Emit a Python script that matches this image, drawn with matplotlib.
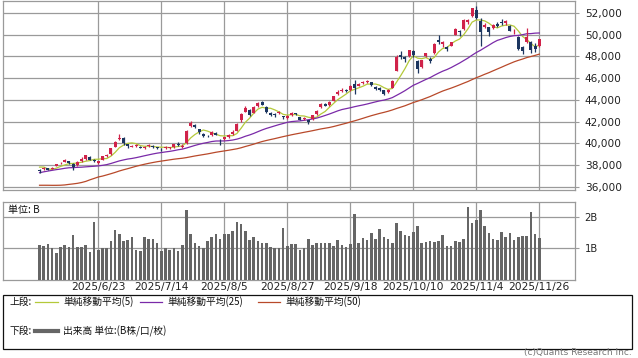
import numpy as np
import pandas as pd
import matplotlib
matplotlib.use("Agg")
import matplotlib.pyplot as plt
from matplotlib.patches import Rectangle
from matplotlib.lines import Line2D

plt.rcParams['font.family'] = ['DejaVu Sans', 'Noto Sans CJK JP']

### data ###
tick_pos = [14, 29, 44, 59, 74, 89, 104, 119]
tick_labels = ['2025/6/23', '2025/7/14', '2025/8/5', '2025/8/27',
               '2025/9/18', '2025/10/10', '2025/11/4', '2025/11/26']

# closes before the first candle, only used to start the moving averages
prior_close = [37677, 37608, 38027, 38027, 37800, 37120, 35618, 35624, 35725, 34736,
               33781, 31136, 32012, 31714, 34609, 33586, 33982, 34267, 33920, 34377,
               34730, 34280, 34221, 34869, 35039, 35705, 35840, 36045, 36452, 36831,
               36780, 36928, 37503, 37644, 38183, 38128, 37755, 37753, 37498, 37529,
               37299, 36986, 37160, 37532, 37724, 37722, 38433, 37965, 37470]

opens = [37530, 37600, 37700, 37650, 37950, 38150, 38300, 38350, 38100, 38000,
         38350, 38550, 38700, 38450, 38200, 38500, 38850, 39000, 39700, 40400,
         40500, 39900, 39700, 39750, 39700, 39550, 39750, 39750, 39650, 39500,
         39550, 39600, 39700, 39950, 39700, 40000, 41600, 41700, 41300, 40900,
         40700, 40750, 40950, 40300, 40400, 40600, 40900, 41150, 42100, 42900,
         43100, 42800, 43400, 43800, 43350, 42800, 42700, 42800, 42500, 42300,
         42600, 42750, 42400, 42200, 42100, 42200, 42700, 43300, 43600, 43500,
         43900, 44500, 44850, 44900, 44900, 45500, 45300, 45550, 45600, 45600,
         45200, 45100, 44900, 44700, 45100, 46700, 48100, 47900, 48000, 48500,
         47600, 47000, 48000, 47800, 48300, 49500, 49100, 48900, 49000, 50000,
         50300, 50500, 51200, 51700, 52300, 51300, 50700, 50700, 50600, 51000,
         51200, 51100, 50800, 50300, 49800, 48900, 49300, 49300, 49000, 49000]
highs = [37600, 37800, 37750, 37800, 38120, 38300, 38530, 38400, 38150, 38350,
         38700, 38900, 38800, 38550, 38400, 38850, 39000, 39600, 40200, 40850,
         40550, 39950, 39850, 39900, 39750, 39750, 39900, 39800, 39700, 39600,
         39750, 39700, 39950, 40100, 39900, 41200, 42065, 41800, 41350, 40950,
         40800, 41100, 41000, 40400, 40600, 40900, 41200, 41850, 42800, 43450,
         43200, 43450, 43800, 43900, 43400, 42850, 42750, 42950, 42550, 42600,
         42900, 42800, 42450, 42400, 42150, 42600, 43100, 43700, 43700, 43900,
         44400, 44900, 45050, 45000, 45350, 45850, 45550, 45700, 45800, 45650,
         45250, 45150, 44950, 45000, 45800, 48150, 48500, 48000, 48600, 48600,
         47650, 47700, 48350, 47900, 49200, 50000, 49400, 49000, 49350, 50600,
         50400, 51400, 51450, 52450, 52636, 51500, 51100, 50750, 51000, 51200,
         51400, 51350, 50900, 50500, 49900, 49000, 50600, 49400, 49200, 49600]
lows = [37300, 37550, 37500, 37600, 37900, 38050, 38250, 38100, 37540, 37950,
        38300, 38500, 38450, 38300, 38100, 38450, 38750, 38950, 39650, 40300,
        39850, 39550, 39650, 39700, 39550, 39500, 39700, 39600, 39450, 39300,
        39500, 39450, 39600, 39750, 39550, 39900, 41500, 41400, 40900, 40600,
        40600, 40700, 40750, 39850, 40300, 40500, 40800, 41100, 42000, 42850,
        42500, 42750, 43350, 43500, 42800, 42500, 42400, 42700, 42200, 42250,
        42550, 42600, 42100, 42100, 41800, 42150, 42650, 43250, 43400, 43450,
        43850, 44450, 44750, 44700, 44850, 44500, 45250, 45450, 45550, 45300,
        44950, 44800, 44450, 44600, 45050, 46650, 47800, 47500, 47900, 47950,
        46500, 46900, 47950, 47400, 48250, 49100, 48900, 48500, 48950, 49950,
        49900, 50450, 51000, 51600, 51400, 49000, 50600, 49900, 50500, 50700,
        50900, 50900, 50300, 50100, 48600, 48200, 49200, 48300, 48400, 48900]
closes = [37446, 37747, 37554, 37741, 38088, 38211, 38421, 38173, 37834, 38311,
          38537, 38885, 38488, 38403, 38354, 38790, 38942, 39584, 40150, 40487,
          39986, 39762, 39785, 39810, 39587, 39688, 39821, 39646, 39570, 39459,
          39678, 39663, 39901, 39819, 39774, 41171, 41826, 41456, 40998, 40675,
          40654, 41069, 40800, 40290, 40549, 40794, 41059, 41820, 42718, 43274,
          42649, 43378, 43714, 43546, 42888, 42610, 42633, 42807, 42394, 42520,
          42829, 42718, 42188, 42310, 41938, 42580, 43018, 43643, 43459, 43837,
          44372, 44768, 44902, 44790, 45303, 45045, 45493, 45630, 45754, 45354,
          45043, 44932, 44550, 44936, 45769, 47944, 47950, 47734, 48580, 48088,
          46847, 47672, 48277, 47582, 49185, 49316, 49307, 48641, 49299, 50512,
          50219, 51307, 51325, 52411, 51497, 50212, 50883, 50276, 50912, 50842,
          51063, 51281, 50376, 50323, 48702, 48537, 49823, 48625, 48659, 49559]
volume = [1.11, 1.08, 1.14, 1.00, 0.86, 1.03, 1.11, 1.05, 1.42, 1.04,
          1.04, 1.11, 0.89, 1.84, 0.96, 1.02, 1.02, 1.23, 1.58, 1.45,
          1.23, 1.27, 1.36, 0.96, 0.92, 1.36, 1.31, 1.31, 1.16, 0.93,
          1.00, 0.95, 1.00, 0.93, 1.11, 2.21, 1.47, 1.17, 1.07, 1.02,
          1.23, 1.36, 1.47, 1.31, 1.45, 1.45, 1.56, 1.83, 1.76, 1.55,
          1.27, 1.35, 1.23, 1.17, 1.17, 1.04, 1.00, 1.02, 1.65, 1.07,
          1.14, 1.14, 0.96, 1.00, 1.29, 1.11, 1.17, 1.17, 1.17, 1.17,
          1.07, 1.26, 1.11, 1.04, 1.14, 2.08, 1.18, 1.33, 1.27, 1.48,
          1.31, 1.61, 1.36, 1.31, 1.18, 1.80, 1.56, 1.42, 1.40, 1.52,
          1.71, 1.18, 1.20, 1.23, 1.21, 1.23, 1.42, 1.08, 1.08, 1.23,
          1.20, 1.29, 2.31, 1.80, 1.89, 2.21, 1.71, 1.48, 1.31, 1.27,
          1.52, 1.36, 1.48, 1.27, 1.37, 1.40, 1.39, 2.16, 1.45, 1.33]

UP = '#d0234a'
DOWN = '#1c3660'
MA_COLORS = {5: '#b4c93a', 25: '#7a2aa8', 50: '#b8492a'}
GRID = '#9a9a9a'

W, H = 638, 358
def fx(x): return x / W
def fy(y): return 1 - y / H

fig = plt.figure(figsize=(W / 100, H / 100), dpi=100)
fig.patch.set_facecolor('white')

ax = fig.add_axes([fx(3), fy(190), fx(572), 189 / H])
axv = fig.add_axes([fx(3), fy(280), fx(572), 78 / H])

n = len(closes)
idx = np.arange(n)
o = np.array(opens, float)
c = np.array(closes, float)
hi = np.array(highs, float)
lo = np.array(lows, float)

# moving averages
allc = pd.Series(prior_close + closes, dtype=float)
for w in (5, 25, 50):
    ma = allc.rolling(w).mean().values[len(prior_close):]
    ax.plot(idx, ma, color=MA_COLORS[w], lw=0.9, zorder=3)

# candles
cols = [UP if cc >= oo else DOWN for oo, cc in zip(o, c)]
ax.vlines(idx, lo, hi, colors=cols, lw=0.9, zorder=4)
body_b = np.minimum(o, c)
body_h = np.maximum(np.abs(c - o), 40)
ax.bar(idx, body_h, bottom=body_b, width=0.74, color=cols, lw=0, zorder=5)

ax.set_xlim(-8.7, 127.5)
ax.set_ylim(35700, 53100)
ax.set_yticks(np.arange(36000, 52001, 2000))
ax.set_yticklabels([f'{v:,}' for v in range(36000, 52001, 2000)])
ax.set_xticks(tick_pos)
ax.set_xticklabels([])
ax.yaxis.tick_right()
ax.grid(True, color=GRID, lw=0.9)
ax.set_axisbelow(True)
ax.tick_params(axis='x', length=0)
ax.tick_params(axis='y', length=3, color=GRID, labelsize=7.6, pad=4, labelcolor='#222')

# volume
axv.bar(idx, volume, width=0.62, color='#666666', lw=0, zorder=3)
axv.set_xlim(-8.7, 127.5)
axv.set_ylim(0, 2.47)
axv.set_yticks([1, 2])
axv.set_yticklabels(['1B', '2B'])
axv.yaxis.tick_right()
axv.set_xticks(tick_pos)
axv.set_xticklabels(tick_labels)
axv.grid(True, color=GRID, lw=0.9)
axv.set_axisbelow(True)
axv.tick_params(axis='x', length=0, labelsize=7.7, pad=1.5, labelcolor='#222')
axv.tick_params(axis='y', length=3, color=GRID, labelsize=7.2, pad=4, labelcolor='#222')
axv.text(0.008, 0.9, '単位: B', transform=axv.transAxes, fontsize=7.2,
         family=['Noto Sans CJK JP', 'DejaVu Sans'], va='center', ha='left',
         color='#111', bbox=dict(facecolor='white', edgecolor='none', pad=0.5))

for a in (ax, axv):
    for s in a.spines.values():
        s.set_color(GRID)
        s.set_linewidth(0.9)

# legend box
jp = ['Noto Sans CJK JP', 'DejaVu Sans']
fig.add_artist(Rectangle((fx(3), fy(349)), fx(629), 54 / H, transform=fig.transFigure,
                         facecolor='none', edgecolor='#111', lw=0.9))
fig.text(fx(9), fy(302), '上段:', fontsize=7, family=jp, va='center', color='#111')
fig.text(fx(9), fy(331), '下段:', fontsize=7, family=jp, va='center', color='#111')
legend_items = [(35, 58, 63, MA_COLORS[5], '単純移動平均(5)'),
                (140, 162, 167, MA_COLORS[25], '単純移動平均(25)'),
                (258, 280, 285, MA_COLORS[50], '単純移動平均(50)')]
for x0, x1, xt, col, lab in legend_items:
    fig.add_artist(Line2D([fx(x0), fx(x1)], [fy(302), fy(302)], transform=fig.transFigure,
                          color=col, lw=0.9))
    fig.text(fx(xt), fy(302), lab, fontsize=7, family=jp, va='center', color='#111')
fig.add_artist(Line2D([fx(35), fx(58)], [fy(331), fy(331)], transform=fig.transFigure,
                      color='#666666', lw=3))
fig.text(fx(63), fy(331), '出来高 単位:(B株/口/枚)', fontsize=7, family=jp, va='center', color='#111')

fig.text(fx(632), fy(357), '(c)Quants Research Inc.', fontsize=6.5, color='#777',
         va='bottom', ha='right')

fig.savefig('out.png', dpi=100, facecolor='white')
